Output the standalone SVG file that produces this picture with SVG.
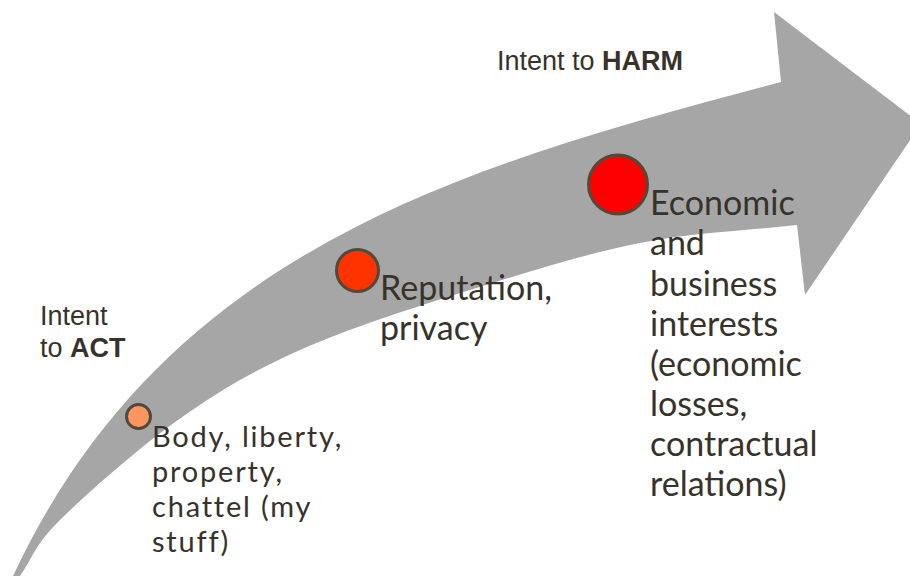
<svg xmlns="http://www.w3.org/2000/svg" width="910" height="576" viewBox="0 0 910 576">
<style>
.lbl{font-family:Lato,"Open Sans","Liberation Sans",sans-serif;fill:#37322a}
.big{font-size:34px}
.med{font-size:29px;letter-spacing:1.8px}
.intent{font-family:"Liberation Sans",Arial,sans-serif;font-size:27px;fill:#37322a}
.dot{stroke:#514a3a;stroke-width:3}
</style>
<rect width="910" height="576" fill="#ffffff"/>
<g id="arrow">
<path d="M13,576 C168,245 470,165 781,82 L774,12 L921,124 L805,295 L797,225 C744.7,231 694.5,232.2 640,243 C585.5,253.8 526.7,272.2 470,290 C413.3,307.8 348.7,328.3 300,350 C251.3,371.7 218,391.7 178,420 C138,448.3 86.3,494 60,520 C33.7,546 33.3,557.3 20,576 Z" fill="#a6a6a6"/>
</g>
<g id="connectors"></g>
<g id="intent-act">
<text class="intent" x="40" y="325">Intent</text>
<text class="intent" x="40" y="357">to <tspan font-weight="bold">ACT</tspan></text>
</g>
<g id="intent-harm">
<text class="intent" x="497" y="70">Intent to <tspan font-weight="bold">HARM</tspan></text>
</g>
<g id="node-body">
<circle class="dot" cx="138.5" cy="416.5" r="12" fill="#ff9661"/>
<text class="lbl med"><tspan x="152" y="447">Body, liberty,</tspan><tspan x="152" y="482">property,</tspan><tspan x="152" y="517">chattel (my</tspan><tspan x="152" y="552">stuff)</tspan></text>
</g>
<g id="node-reputation">
<circle class="dot" cx="357.5" cy="270.5" r="21" fill="#ff3300"/>
<text class="lbl big"><tspan x="380" y="300">Reputation,</tspan><tspan x="380" y="340">privacy</tspan></text>
</g>
<g id="node-economic">
<circle class="dot" cx="618" cy="184.5" r="29.5" fill="#ff0000"/>
<text class="lbl big"><tspan x="650" y="215">Economic</tspan><tspan x="650" y="255">and</tspan><tspan x="650" y="296">business</tspan><tspan x="650" y="336">interests</tspan><tspan x="650" y="376">(economic</tspan><tspan x="650" y="416">losses,</tspan><tspan x="650" y="456">contractual</tspan><tspan x="650" y="496">relations)</tspan></text>
</g>
</svg>
